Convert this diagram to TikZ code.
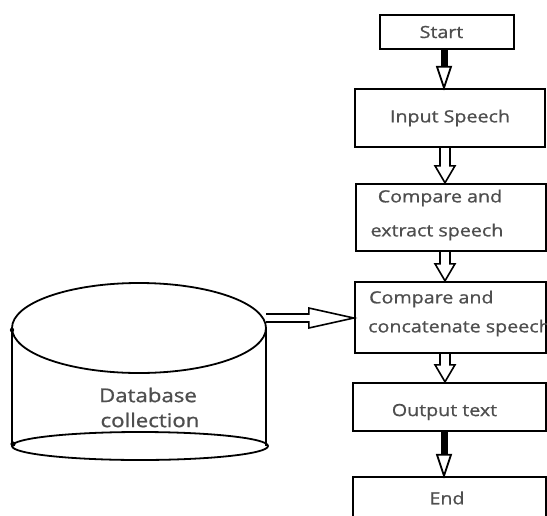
\documentclass[tikz,border=0pt]{standalone}
\usepackage{fontspec}
\setmainfont{Open Sans}[FakeStretch=1.17, FakeBold=0.9]
\usetikzlibrary{calc}
\definecolor{txt}{HTML}{4E4E4E}
\tikzset{
  box/.style={draw=black, line width=2.4pt, inner sep=0pt},
  lbl/.style={text=txt, font=\fontsize{16.8}{18}\selectfont, inner sep=0pt},
  dblbl/.style={text=txt, font=\fontsize{19}{21}\selectfont, inner sep=0pt},
  harrow/.style={draw=black, line width=1.6pt, line join=miter},
  barrow/.style={draw=black, line width=1.8pt, fill=white, line join=miter},
  cyl/.style={draw=black, line width=1.8pt}
}
\newcommand\hollowdown[3]{%
  \coordinate (hs) at (#1.south -| #3);
  \coordinate (he) at (#2.north -| #3);
  \draw[harrow] ($(hs)+(-5,0)$) -- ($(he)+(-5,-17)$) -- ($(he)+(-10,-17)$) -- (he)
     -- ($(he)+(10,-17)$) -- ($(he)+(5,-17)$) -- ($(hs)+(5,0)$);
}
\newcommand\blackdown[3]{%
  \coordinate (hs) at (#1.south -| #3);
  \coordinate (he) at (#2.north -| #3);
  \fill[black] ($(hs)+(-3.5,0)$) rectangle ($(he)+(3.5,-18)$);
  \draw[barrow] ($(he)+(-7,-21)$) -- (he) -- ($(he)+(7,-21)$) -- cycle;
}
\begin{document}
\begin{tikzpicture}[x=1pt,y=-1pt]
\clip (0,0) rectangle (547,515);
\fill[white] (0,0) rectangle (547,515);
% boxes
\node[box, minimum width=134, minimum height=34] (start) at (447,32) {};
\node[box, minimum width=190, minimum height=58] (input) at (450,118) {};
\node[box, minimum width=190, minimum height=67] (extract) at (451,217.5) {};
\node[box, minimum width=191, minimum height=71] (concat) at (450.5,317.5) {};
\node[box, minimum width=193, minimum height=48] (output) at (449.5,407) {};
\node[box, minimum width=193, minimum height=52] (end) at (449.5,503) {};
% texts
\node[lbl] (tstart) at (441.5,32) {Start};
\node[lbl] (tinput) at (450,118) {Input Speech};
\node[lbl] (textr1) at (440,198) {Compare and};
\node[lbl] (textr2) at (437,232) {extract speech};
\node[lbl, anchor=west] (tcon1) at (369,299) {Compare and};
\node[lbl, anchor=west] (tcon2) at (368,328) {concatenate speech};
\node[lbl] (toutput) at (444.5,412) {Output text};
\node[lbl] (tend) at (447,498) {End};
% arrows
\coordinate (ax) at (445,0);
\coordinate (bx) at (444,0);
\blackdown{start}{input}{bx}
\hollowdown{input}{extract}{ax}
\hollowdown{extract}{concat}{ax}
\hollowdown{concat}{output}{ax}
\blackdown{output}{end}{bx}
% database cylinder
\draw[cyl] (139,328) ellipse [x radius=127, y radius=45];
\draw[cyl] (12,328) -- (12,446);
\draw[cyl] (266,328) -- (266,446);
\draw[cyl] (140,446) ellipse [x radius=128, y radius=14];
\fill[black] (12,330) circle (2.2);
\fill[black] (13,444) circle (2.6);
\node[dblbl] (db1) at (148,395) {Database};
\node[dblbl] (db2) at (150,420) {collection};
% horizontal arrow
\coordinate (dbr) at (266,318);
\coordinate (cw) at (concat.west |- dbr);
\draw[harrow] ($(dbr)+(0,-4)$) -- ($(cw)+(-45,-4)$) -- ($(cw)+(-45,-10)$) -- (cw)
   -- ($(cw)+(-45,10)$) -- ($(cw)+(-45,4)$) -- ($(dbr)+(0,4)$);
\end{tikzpicture}
\end{document}
